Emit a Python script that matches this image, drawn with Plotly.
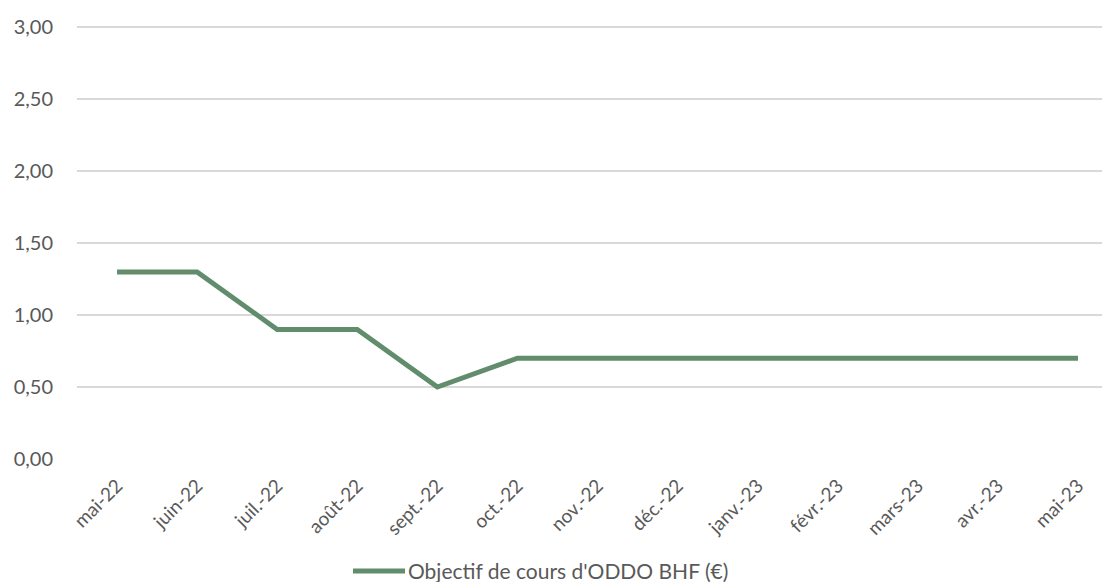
import plotly.graph_objects as go

months = ["mai-22", "juin-22", "juil.-22", "août-22", "sept.-22", "oct.-22", "nov.-22",
          "déc.-22", "janv.-23", "févr.-23", "mars-23", "avr.-23", "mai-23"]
target = [1.30, 1.30, 0.90, 0.90, 0.50, 0.70, 0.70, 0.70, 0.70, 0.70, 0.70, 0.70, 0.70]
series_name = "Objectif de cours d'ODDO BHF (€)"
y_ticks = [0, 0.5, 1.0, 1.5, 2.0, 2.5, 3.0]
y_labels = [f"{v:.2f}".replace(".", ",") for v in y_ticks]

LINE = "#618d6c"
TXT = "#595959"
FONT = "Lato"

W, H = 1102, 582
ML, MR, MT, MB = 77, 0, 20, 123

fig = go.Figure()
fig.add_trace(go.Scatter(
    x=list(range(len(months))), y=target, mode="lines", name=series_name,
    line=dict(color=LINE, width=5), showlegend=False, hoverinfo="y"))

# manual legend (longer line sample like the original)
pw = W - ML - MR
ph = H - MT - MB
def px_x(p):
    return (p - ML) / pw
def px_y(p):
    return (H - MB - p) / ph

fig.add_shape(type="line", xref="paper", yref="paper",
              x0=px_x(353), x1=px_x(405), y0=px_y(571), y1=px_y(571),
              line=dict(color=LINE, width=5))
fig.add_annotation(xref="paper", yref="paper", x=px_x(407), y=px_y(570),
                   xanchor="left", yanchor="middle", text=series_name,
                   showarrow=False, borderpad=0,
                   font=dict(family=FONT, size=21, color=TXT))

fig.update_layout(
    width=W, height=H,
    margin=dict(l=ML, r=MR, t=MT, b=MB, pad=0),
    paper_bgcolor="white", plot_bgcolor="white",
    font=dict(family=FONT, size=20, color=TXT),
    xaxis=dict(
        tickmode="array", tickvals=list(range(len(months))), ticktext=months,
        range=[-0.5, 12.30], tickangle=-45, showgrid=False, zeroline=False,
        showline=False, ticks="", ticklabelstandoff=11,
        tickfont=dict(family=FONT, size=19, color=TXT), fixedrange=True),
    yaxis=dict(
        tickmode="array", tickvals=y_ticks, ticktext=y_labels, range=[0, 3.05],
        showgrid=True, gridcolor="#d9d9d9", gridwidth=1.5, zeroline=False,
        showline=False, ticks="", ticklabelstandoff=23,
        tickfont=dict(family=FONT, size=20, color=TXT), fixedrange=True),
)

fig.write_html("out.html")
